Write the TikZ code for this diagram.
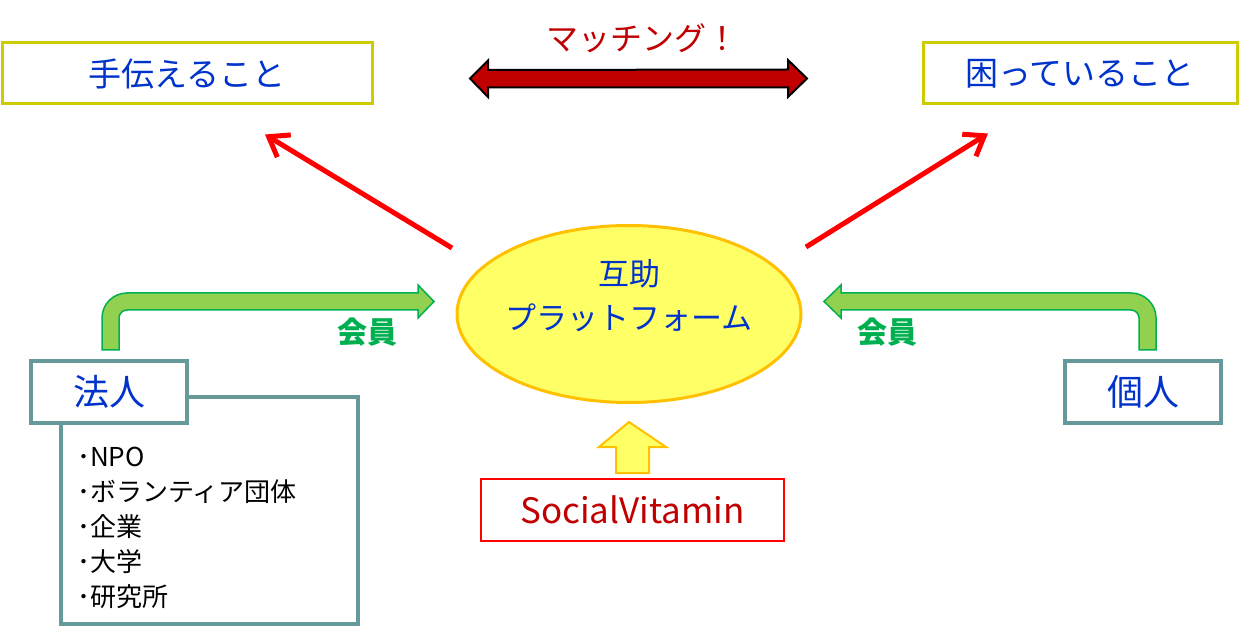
\documentclass[tikz,border=0pt]{standalone}
\usepackage{fontspec}
\setmainfont{Noto Sans CJK JP}
\usetikzlibrary{shapes.geometric,arrows.meta,calc}
\definecolor{txtblue}{RGB}{0,51,204}
\definecolor{darkred}{RGB}{192,0,0}
\definecolor{boxolive}{RGB}{204,204,0}
\definecolor{teal}{RGB}{102,153,153}
\definecolor{lgreen}{RGB}{146,208,80}
\definecolor{dgreen}{RGB}{0,176,80}
\definecolor{lyellow}{RGB}{255,255,102}
\definecolor{gold}{RGB}{255,192,0}
\tikzset{
  topbox/.style={draw=boxolive,line width=3pt,fill=white,minimum height=61pt,text=txtblue,inner sep=0pt,font=\fontsize{33}{39}\selectfont},
  orgbox/.style={draw=teal,line width=3.5pt,fill=white,minimum width=156pt,minimum height=62pt,text=txtblue,inner sep=0pt,font=\fontsize{36}{42}\selectfont},
  redarrow/.style={draw=red,line width=5pt,-{Straight Barb[length=18pt,width=26pt]}},
  greenarrow/.style={draw=dgreen,fill=lgreen,line width=1.5pt,line join=miter},
  memberlbl/.style={text=dgreen,font=\fontsize{30}{34}\selectfont\bfseries,inner sep=0pt},
}
\begin{document}
\begin{tikzpicture}[x=1pt,y=-1pt]
\useasboundingbox (0,0) rectangle (1240,628);
% top boxes
\node[topbox,minimum width=370pt] (help) at (187,73.5) {手伝えること};
\node[topbox,minimum width=314pt] (trouble) at (1080,73.5) {困っていること};
% matching
\node[text=darkred,font=\fontsize{32}{38}\selectfont,inner sep=0pt] (matchtxt) at (642,38) {マッチング！};
\coordinate (mL) at (470,78.5);
\coordinate (mR) at (807,78.5);
\draw[fill=darkred,draw=black,line width=2pt,line join=miter]
  (mL) -- ++(18,-18) -- ++(0,9.5) -- ($(mR)+(-19,-9)$) -- ++(0,-9.5) -- (mR)
  -- ++(-19,18.5) -- ++(0,-9.5) -- ($(mL)+(18,9)$) -- ++(0,9.5) -- cycle;
% platform
\node[ellipse,draw=gold,fill=lyellow,line width=3pt,minimum width=344pt,minimum height=177pt] (platform) at (629,314) {};
\node[text=txtblue,align=center,font=\fontsize{31}{44}\selectfont,inner sep=0pt] (platformtext) at (629,296) {互助\\プラットフォーム};
% red arrows
\draw[redarrow] ($(platform.center)+(-177,-66)$) -- ($(help.south)+(78,29)$);
\draw[redarrow] ($(platform.center)+(177,-67)$) -- ($(trouble.south)+(-92,28)$);
% list box and corp
\node[draw=teal,line width=3.5pt,fill=white,minimum width=297pt,minimum height=227pt] (listbox) at (209.5,510.5) {};
\node[anchor=west,align=left,inner sep=0pt,font=\fontsize{26}{35}\selectfont] (listtext) at (77,528) {･NPO\\･ボランティア団体\\･企業\\･大学\\･研究所};
\node[orgbox] (hojin) at (109,392) {法人};
\node[orgbox] (kojin) at (1143,392) {個人};
% green bent arrows
\draw[greenarrow] (102,350) -- (102,318) arc[start angle=180,end angle=270,radius=25]
  -- (418,293) -- (418,285) -- (434,301.5) -- (418,318) -- (418,310) -- (127,310)
  arc[start angle=270,end angle=180,radius=8] -- (119,350) -- cycle;
\draw[greenarrow] (1156,350) -- (1156,318) arc[start angle=0,end angle=-90,radius=25]
  -- (841,293) -- (841,285) -- (824,301.5) -- (841,318) -- (841,310) -- (1131,310)
  arc[start angle=-90,end angle=0,radius=8] -- (1139,350) -- cycle;
\node[memberlbl] (memL) at (367,332) {会員};
\node[memberlbl] (memR) at (887,332) {会員};
% social vitamin
\node[draw=red,line width=2pt,minimum width=303pt,minimum height=62pt,text=darkred,font=\fontsize{35}{42}\selectfont,inner sep=0pt] (sv) at (632.5,510) {SocialVitamin};
\draw[draw=gold,fill=lyellow,line width=2pt,line join=miter]
  ($(sv.north)+(-16.5,-5)$) -- ++(0,-26) -- ++(-17,0) -- ($(platform.south)+(0,18)$)
  -- ($(sv.north)+(33.5,-31)$) -- ++(-17,0) -- ++(0,26) -- cycle;
\end{tikzpicture}
\end{document}
